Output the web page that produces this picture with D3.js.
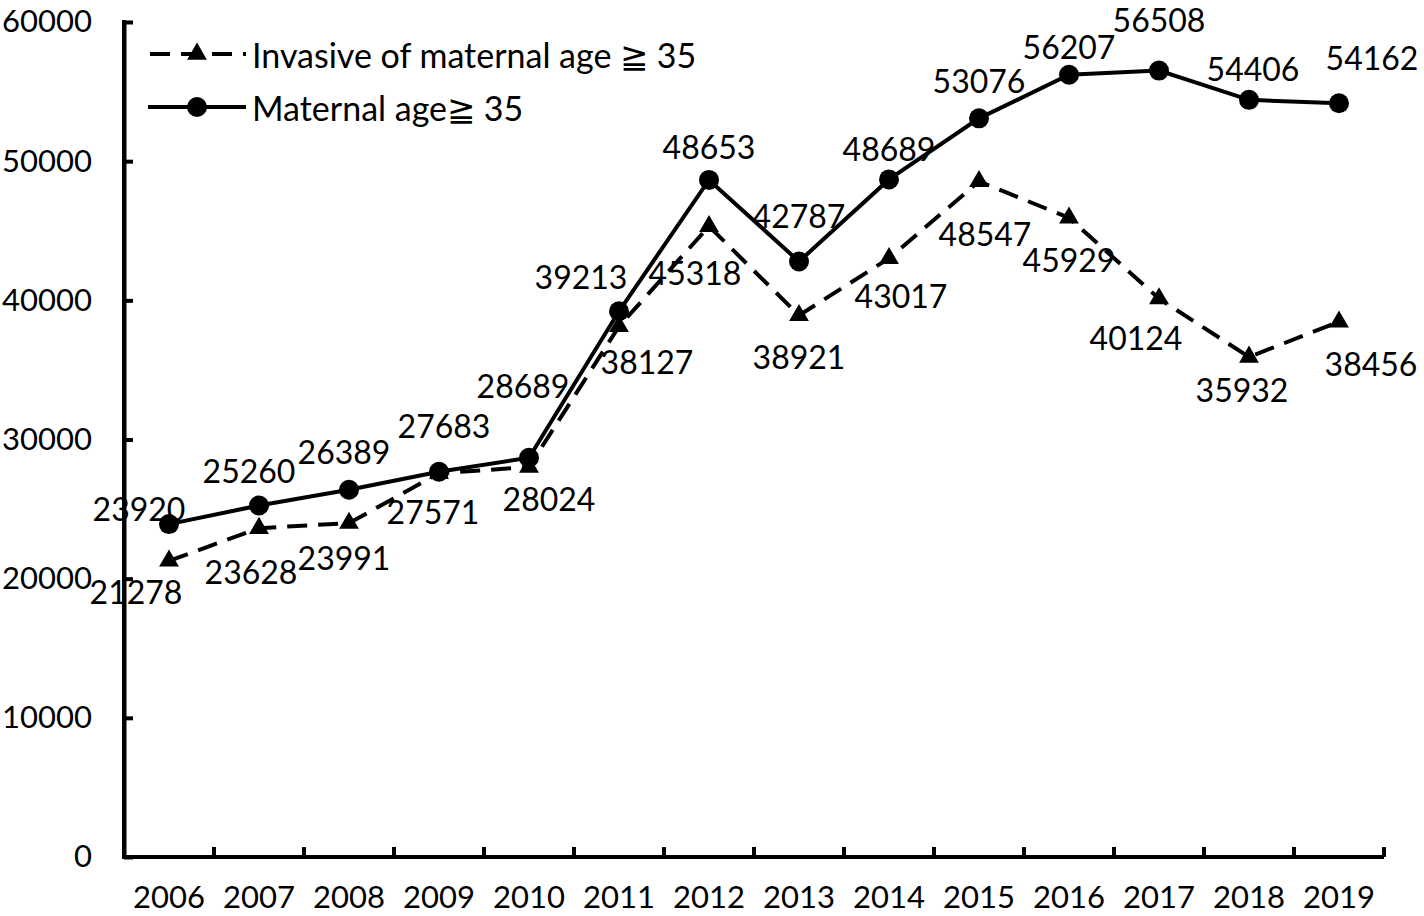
<!DOCTYPE html>
<html>
<head>
<meta charset="utf-8">
<script src="https://cdn.jsdelivr.net/npm/d3@7"></script>
<style>
  html, body { margin: 0; padding: 0; background: #fff; }
  svg text { font-family: Lato, "Open Sans", sans-serif; fill: #000; }
</style>
</head>
<body>
<svg id="chart" width="1424" height="916"></svg>
<script>
// ---- data ----
const years = ["2006","2007","2008","2009","2010","2011","2012","2013","2014","2015","2016","2017","2018","2019"];
const maternalAge35 = [23920,25260,26389,27683,28689,39213,48653,42787,48689,53076,56207,56508,54406,54162];
const invasive35 = [21278,23628,23991,27571,28024,38127,45318,38921,43017,48547,45929,40124,35932,38456];
const yTicks = [0,10000,20000,30000,40000,50000,60000];
const seriesNames = ["Invasive of maternal age \u2267 35", "Maternal age\u2267 35"];

// ---- label placement (pixel offsets from each point) ----
const maternalLabelOffsets = [[-30,-16],[-10,-35],[-5,-38],[5,-46],[-6,-72],[-38,-35],[0,-33],[0,-46],[0,-31],[0,-38],[0,-28],[0,-51],[4,-31],[33,-46]];
const invasiveLabelOffsets = [[-33,31],[-8,43],[-5,34],[-6,38],[20,32],[28,35],[-14,46],[0,41],[12,37],[6,52],[0,42],[-23,39],[-7,33],[32,42]];

(function () {
const svg = d3.select("#chart");
const mLeft = 124, mRight = 1384, mTop = 22, mBottom = 857;

const x = d3.scaleBand().domain(years).range([mLeft, mRight]).padding(0);
const y = d3.scaleLinear().domain([0, 60000]).range([mBottom, mTop]);
const cx = d => x(d) + x.bandwidth() / 2;

const fontSize = 31;
const ff = "Lato, 'Open Sans', sans-serif";

// Y axis
const yAxis = svg.append("g").attr("transform", `translate(${mLeft},0)`)
  .call(d3.axisLeft(y).tickValues(yTicks).tickSize(-9).tickSizeOuter(0).tickFormat(d3.format("d")));
yAxis.select(".domain").attr("stroke", "#000").attr("stroke-width", 4);
yAxis.selectAll(".tick line").attr("stroke", "#000").attr("stroke-width", 4);
yAxis.selectAll(".tick text").attr("font-size", fontSize).attr("font-family", ff).attr("fill", "#000").attr("x", -32);

// X axis (labels)
const xAxis = svg.append("g").attr("transform", `translate(0,${mBottom})`)
  .call(d3.axisBottom(x).tickSize(0).tickPadding(29));
xAxis.select(".domain").remove();
xAxis.selectAll(".tick text").attr("font-size", fontSize).attr("font-family", ff).attr("fill", "#000");

// X axis line + boundary ticks
svg.append("line").attr("x1", mLeft).attr("x2", mRight).attr("y1", mBottom).attr("y2", mBottom)
  .attr("stroke", "#000").attr("stroke-width", 4);
svg.append("g").selectAll("line").data(years).join("line")
  .attr("x1", d => x(d) + x.bandwidth()).attr("x2", d => x(d) + x.bandwidth())
  .attr("y1", mBottom).attr("y2", mBottom - 10)
  .attr("stroke", "#000").attr("stroke-width", 4);
svg.append("line").attr("x1", mLeft).attr("x2", mLeft).attr("y1", mTop - 2).attr("y2", mBottom + 2)
  .attr("stroke", "#000").attr("stroke-width", 4);

// Lines
const lineGen = vals => d3.line().x((d, i) => cx(years[i])).y(d => y(d))(vals);

svg.append("path").attr("d", lineGen(invasive35)).attr("fill", "none")
  .attr("stroke", "#000").attr("stroke-width", 4).attr("stroke-dasharray", "20,11");
svg.append("path").attr("d", lineGen(maternalAge35)).attr("fill", "none")
  .attr("stroke", "#000").attr("stroke-width", 4);

// Markers
const tri = d3.symbol().type(d3.symbolTriangle).size(170);
svg.append("g").selectAll("path").data(invasive35).join("path")
  .attr("d", tri).attr("transform", (d, i) => `translate(${cx(years[i])},${y(d)})`).attr("fill", "#000");
svg.append("g").selectAll("circle").data(maternalAge35).join("circle")
  .attr("cx", (d, i) => cx(years[i])).attr("cy", d => y(d)).attr("r", 10).attr("fill", "#000");

// Data labels
function labels(vals, offs) {
  svg.append("g").selectAll("text").data(vals).join("text")
    .attr("x", (d, i) => cx(years[i]) + offs[i][0])
    .attr("y", (d, i) => y(d) + offs[i][1])
    .attr("text-anchor", "middle").attr("dominant-baseline", "central")
    .attr("font-size", 32).text(d => d);
}
labels(maternalAge35, maternalLabelOffsets);
labels(invasive35, invasiveLabelOffsets);

// Legend
const lg = svg.append("g");
const legY = [54, 107];
lg.append("line").attr("x1", 148).attr("x2", 246).attr("y1", legY[0]).attr("y2", legY[0])
  .attr("stroke", "#000").attr("stroke-width", 4).attr("stroke-dasharray", "20,11").attr("stroke-dashoffset", -2);
lg.append("path").attr("d", tri).attr("transform", `translate(197,${legY[0]})`).attr("fill", "#000");
lg.append("line").attr("x1", 148).attr("x2", 246).attr("y1", legY[1]).attr("y2", legY[1])
  .attr("stroke", "#000").attr("stroke-width", 4);
lg.append("circle").attr("cx", 197).attr("cy", legY[1]).attr("r", 10).attr("fill", "#000");
lg.selectAll("text").data(seriesNames).join("text")
  .attr("x", 252).attr("y", (d, i) => legY[i]).attr("dominant-baseline", "central")
  .attr("font-size", 34).text(d => d);
})();
</script>
</body>
</html>
